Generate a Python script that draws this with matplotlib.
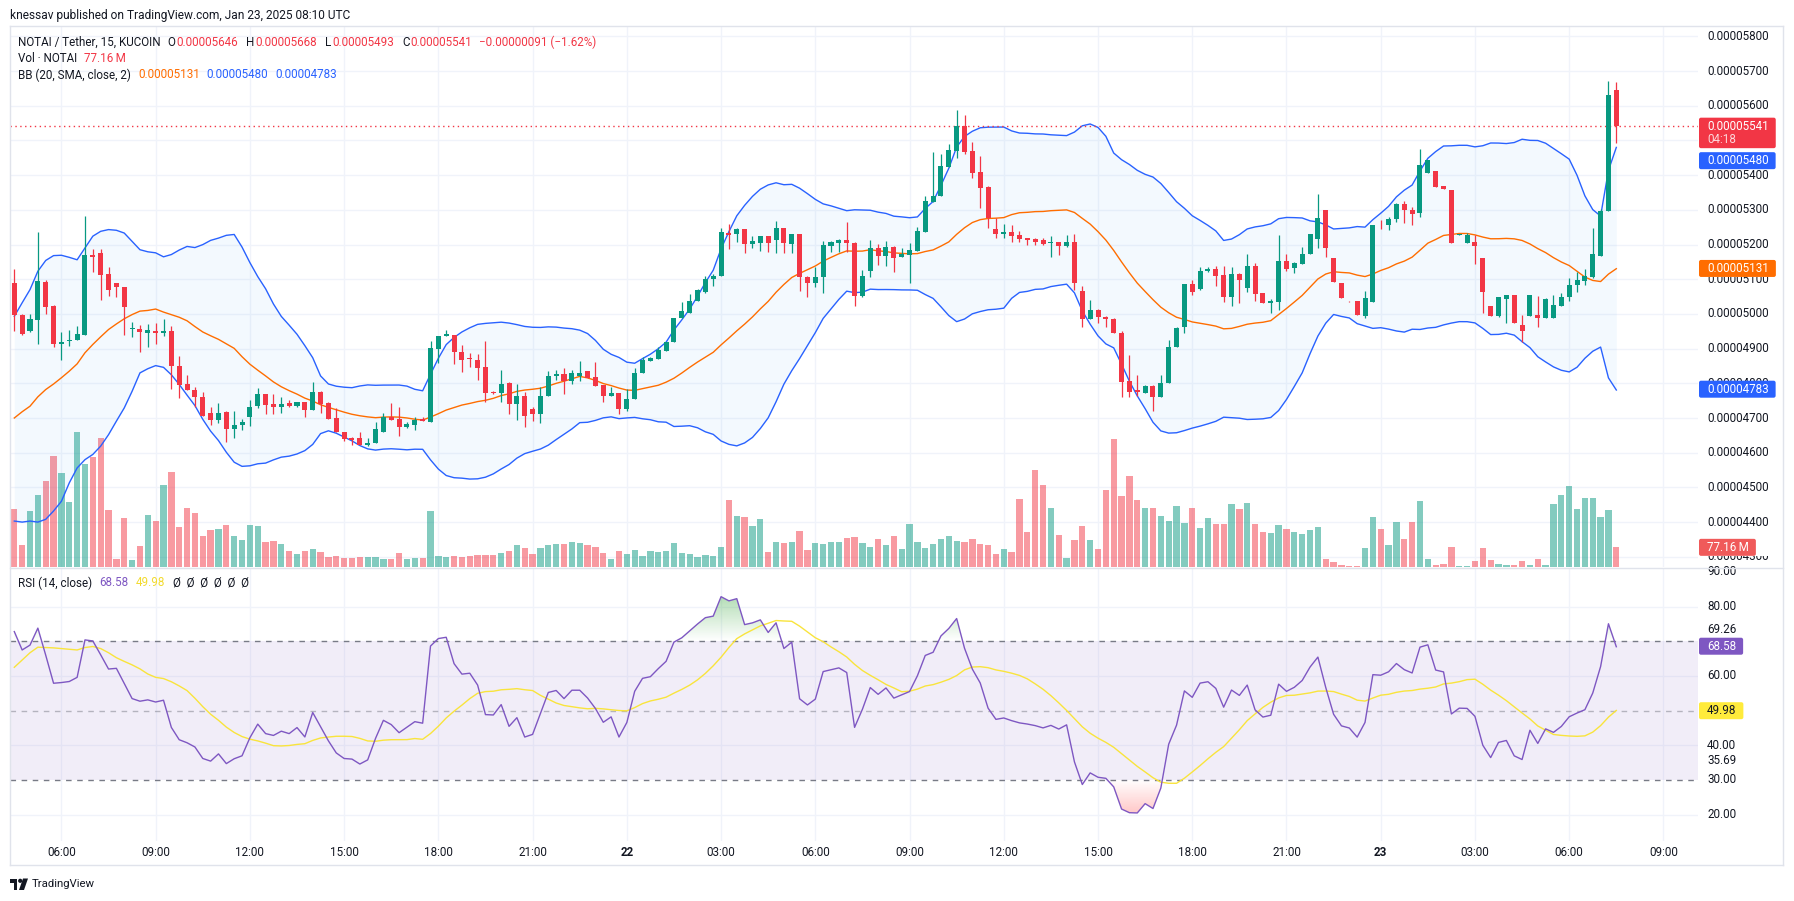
import numpy as np
import pandas as pd
import matplotlib
matplotlib.use("Agg")
import matplotlib.pyplot as plt
from matplotlib.transforms import IdentityTransform, blended_transform_factory, Bbox
from matplotlib.patches import FancyBboxPatch, PathPatch, Polygon, Circle
from matplotlib.path import Path
from matplotlib.lines import Line2D
from matplotlib.colors import to_rgb

# ---------------- data (prices in units of 1e-8 USDT, volume in millions) ----------------
start_time = "2025-01-21 04:30"

opens = [5089,4998,4952,4982,5092,5024,4912,4921,4924,4940,
         5171,5176,5116,5089,5078,4957,4957,4945,4952,4945,
         4952,4851,4799,4782,4761,4713,4694,4717,4669,4680,
         4702,4734,4768,4739,4731,4742,4734,4747,4722,4776,
         4743,4701,4661,4642,4642,4622,4627,4659,4703,4696,
         4674,4681,4698,4688,4900,4936,4940,4890,4871,4867,
         4848,4774,4773,4800,4741,4762,4726,4712,4762,4821,
         4827,4808,4821,4836,4819,4795,4764,4771,4725,4754,
         4829,4865,4869,4894,4919,4987,5004,5038,5064,5100,
         5110,5232,5229,5244,5201,5204,5225,5213,5249,5201,
         5230,5105,5090,5105,5197,5205,5213,5203,5052,5125,
         5189,5168,5192,5163,5171,5180,5237,5323,5340,5424,
         5469,5541,5469,5409,5365,5244,5230,5235,5227,5218,
         5215,5213,5203,5206,5196,5206,5066,4985,5011,4990,
         4985,4944,4807,4781,4771,4792,4760,4800,4904,4961,
         5086,5071,5125,5130,5112,5050,5115,5076,5138,5061,
         5031,5033,5153,5131,5143,5172,5216,5299,5160,5088,
         5037,5037,4994,5033,5257,5255,5273,5317,5300,5292,
         5407,5412,5369,5357,5228,5204,5206,5162,5023,4994,
         5044,5055,4968,4994,4997,4987,4987,5024,5048,5082,
         5096,5106,5168,5297,5646]

highs = [5130,5001,5001,5235,5099,5027,4947,4955,4966,5281,
         5188,5188,5135,5089,5078,4976,4969,4972,4974,4984,
         4966,4880,4825,4790,4776,4732,4742,4720,4720,4698,
         4753,4787,4768,4770,4761,4751,4747,4747,4805,4779,
         4747,4730,4661,4646,4661,4642,4689,4713,4744,4732,
         4688,4703,4703,4923,4937,4955,4940,4911,4887,4885,
         4923,4779,4839,4805,4798,4776,4733,4788,4836,4839,
         4845,4837,4865,4836,4860,4795,4789,4771,4783,4843,
         4875,4877,4906,4919,4989,5033,5057,5072,5110,5115,
         5249,5259,5249,5244,5225,5225,5225,5268,5249,5230,
         5230,5109,5136,5210,5211,5215,5264,5208,5127,5213,
         5201,5210,5196,5189,5203,5251,5340,5467,5461,5489,
         5587,5573,5494,5455,5369,5275,5259,5256,5240,5218,
         5218,5218,5225,5206,5227,5230,5079,5040,5014,4994,
         4988,4952,4882,4824,4795,4795,4824,4925,4963,5086,
         5098,5136,5136,5139,5138,5134,5119,5173,5148,5061,
         5042,5227,5173,5149,5194,5230,5345,5299,5160,5088,
         5037,5037,5067,5257,5271,5280,5321,5324,5309,5476,
         5444,5412,5369,5357,5229,5233,5228,5162,5023,5048,
         5055,5055,4997,5055,5052,5047,5055,5060,5103,5120,
         5130,5247,5302,5671,5668]

lows = [4950,4938,4949,4912,5001,4904,4866,4907,4924,4940,
        5120,5039,5051,5048,4940,4933,4889,4904,4914,4936,
        4785,4759,4780,4732,4707,4681,4686,4631,4643,4664,
        4676,4729,4712,4712,4715,4732,4731,4702,4722,4715,
        4698,4659,4633,4622,4622,4619,4627,4659,4693,4648,
        4671,4665,4691,4688,4859,4936,4857,4834,4848,4810,
        4745,4769,4745,4712,4693,4675,4692,4687,4762,4810,
        4770,4798,4808,4815,4791,4747,4764,4711,4721,4754,
        4829,4865,4869,4894,4919,4987,5004,5038,5059,5080,
        5110,5187,5208,5175,5189,5182,5177,5175,5175,5175,
        5067,5050,5077,5059,5177,5179,5179,5024,5050,5105,
        5141,5139,5122,5163,5090,5180,5237,5323,5340,5424,
        5448,5461,5391,5304,5247,5220,5218,5208,5208,5199,
        5199,5199,5165,5170,5194,5069,4963,4985,4973,4963,
        4944,4760,4760,4764,4771,4719,4760,4800,4904,4944,
        5055,5069,5122,5081,5033,5024,5031,5064,5038,5031,
        5002,5010,5125,5119,5143,5172,5189,5163,5093,5045,
        5035,4998,4988,5033,5245,5242,5266,5263,5257,5280,
        5407,5367,5361,5204,5228,5204,5144,5004,4994,4990,
        4973,4973,4918,4994,4961,4987,4987,5024,5036,5062,
        5082,5103,5168,5297,5493]

closes = [4998,4943,4984,5094,5019,4912,4919,4926,4943,5171,
          5163,5113,5068,5077,5020,4958,4947,4953,4945,4952,
          4849,4794,4780,4761,4707,4694,4713,4669,4681,4688,
          4732,4768,4737,4731,4741,4734,4747,4722,4776,4739,
          4698,4659,4640,4638,4622,4629,4667,4703,4693,4674,
          4684,4694,4691,4902,4937,4943,4890,4867,4870,4845,
          4773,4772,4798,4741,4762,4706,4712,4762,4821,4827,
          4808,4831,4831,4815,4793,4762,4773,4725,4754,4829,
          4867,4872,4896,4919,4989,5007,5037,5069,5101,5109,
          5235,5228,5244,5201,5210,5225,5205,5249,5205,5230,
          5105,5088,5105,5199,5206,5213,5203,5052,5109,5189,
          5168,5192,5162,5173,5184,5239,5325,5340,5426,5472,
          5541,5467,5407,5364,5275,5230,5235,5225,5217,5213,
          5208,5201,5207,5197,5206,5090,4985,5011,4990,4985,
          4944,4805,4776,4774,4792,4760,4800,4904,4960,5086,
          5064,5124,5130,5110,5050,5115,5098,5138,5057,5031,
          5037,5153,5130,5146,5173,5230,5277,5189,5093,5045,
          5036,4998,5046,5257,5255,5273,5317,5298,5288,5429,
          5444,5367,5361,5204,5229,5228,5197,5064,4994,5048,
          5055,4973,4952,5055,4987,5043,5026,5048,5084,5098,
          5110,5173,5297,5632,5541]

volumes_m = [226,85,218,281,336,434,368,254,528,403,
             430,505,222,30,191,26,81,203,179,320,
             371,156,230,211,120,144,148,164,120,105,
             164,160,97,101,89,61,50,61,69,58,
             38,42,34,34,38,38,38,30,30,54,
             30,34,34,218,42,38,42,39,42,46,
             46,46,55,61,85,75,50,75,85,89,
             89,97,93,85,77,54,30,61,50,65,
             42,61,59,61,93,54,50,38,46,42,
             77,262,199,195,160,187,58,97,93,97,
             140,65,93,89,97,97,112,116,93,77,
             109,85,120,69,167,97,73,89,109,120,
             101,97,109,89,85,50,69,58,266,136,
             379,320,230,124,34,105,160,105,69,301,
             501,277,356,262,230,230,199,179,238,171,
             230,152,191,167,167,246,226,250,167,136,
             132,164,148,136,128,144,156,30,18,7,
             3,3,73,195,148,85,175,109,175,258,
             30,7,10,77,3,3,22,73,26,10,
             7,7,22,7,30,7,246,281,317,226,
             269,269,195,222,77.16]

# indicator values at the left edge (their history lies before the visible window)
bb_head_upper = [4993,5032,5070,5123,5154,5168,5169,5163,5156,5190,
                 5224,5238,5243,5241,5233,5209,5185,5179,5176]
bb_head_basis = [4700,4718,4734,4761,4782,4798,4816,4835,4856,4888,
                 4912,4934,4955,4971,4986,4998,5008,5010,5014]
bb_head_lower = [4403,4400,4403,4400,4408,4432,4460,4513,4556,4580,
                 4595,4619,4652,4691,4729,4777,4830,4842,4851]
rsi_head = [72.8,67.5,68.9,73.8,66.0,57.9,58.1,58.4,59.6,70.4,70.1,66.1,62.0,62.2]
rsi_ma_head = [62.5,64.6,66.7,68.3,68.2,68.1,67.9,67.7,67.5,68.2,68.5,67.9,66.7]

price_ticks = list(range(4300, 5900, 100))
rsi_ticks = [90, 80, 60, 40, 30, 20]
rsi_extra_labels = [69.26, 35.69]
last_price, countdown = 5541, "04:18"
bb_last = {"basis": 5131, "upper": 5480, "lower": 4783}
last_volume = 77.16
rsi_last, rsi_ma_last = 68.58, 49.98

header = "knessav published on TradingView.com, Jan 23, 2025 08:10 UTC"

# ---------------- styling / layout ----------------
W, H, DPI = 1794, 901, 100
FONT = "Roboto"
plt.rcParams["font.family"] = [FONT, "DejaVu Sans"]
TXT = "#131722"
GREEN, RED = "#089981", "#F23645"
BLUE, ORANGE = "#2962FF", "#FF6D00"
PURPLE, YELLOW = "#7E57C2", "#FFEB3B"
GRID = "#F0F3FA"
BORDER = "#E0E3EB"

PANE_L, PANE_R = 10, 1698
MAIN_T, MAIN_B = 26, 567
RSI_T, RSI_B = 568, 841
X0_PX, STEP_PX = 14.3, 7.853
P_TOP, P_BOT = 5829.7, 4270.6
VOL_TOP = 2123.0
R_TOP, R_BOT = 91.14, 12.40
AXIS_TXT_X = 1707
LBL_HALF = 6.0

# ---------------- derived series ----------------
o = np.asarray(opens, float); hi = np.asarray(highs, float)
lo = np.asarray(lows, float); c = np.asarray(closes, float)
vol = np.asarray(volumes_m, float)
n = len(c)
idx = np.arange(n)

cs = pd.Series(c)
basis = cs.rolling(20).mean().to_numpy()
dev = cs.rolling(20).std(ddof=0).to_numpy()
upper = basis + 2 * dev
lower = basis - 2 * dev
k = len(bb_head_basis)
basis[:k] = bb_head_basis; upper[:k] = bb_head_upper; lower[:k] = bb_head_lower

rsi = np.full(n, np.nan)
m = len(rsi_head)
rsi[:m] = rsi_head
mean_step = np.abs(np.diff(c[:m])).mean()
rs0 = rsi_head[-1] / (100 - rsi_head[-1])
avg_up = mean_step * rs0 / (1 + rs0)
avg_dn = mean_step / (1 + rs0)
for i in range(m, n):
    ch = c[i] - c[i - 1]
    avg_up = (avg_up * 13 + max(ch, 0)) / 14
    avg_dn = (avg_dn * 13 + max(-ch, 0)) / 14
    rsi[i] = 100 - 100 / (1 + avg_up / avg_dn)
rsi_ma = pd.Series(rsi).rolling(14).mean().to_numpy()
rsi_ma[:len(rsi_ma_head)] = rsi_ma_head

x_left = (PANE_L - X0_PX) / STEP_PX
x_right = (PANE_R - X0_PX) / STEP_PX
slots = pd.date_range(start_time, periods=int(np.ceil(x_right)) + 1, freq="15min")
tick_pos = [i for i, t in enumerate(slots) if t.minute == 0 and t.hour % 3 == 0]
tick_lab = [(str(slots[i].day), "bold") if slots[i].hour == 0 else (slots[i].strftime("%H:%M"), "normal")
            for i in tick_pos]

# ---------------- figure ----------------
fig = plt.figure(figsize=(W / DPI, H / DPI), dpi=DPI)
fig.patch.set_facecolor("white")
renderer = fig.canvas.get_renderer()


def rect(t, b):
    return [PANE_L / W, 1 - b / H, (PANE_R - PANE_L) / W, (b - t) / H]


axv = fig.add_axes(rect(MAIN_T, MAIN_B)); axv.set_zorder(1)
ax = fig.add_axes(rect(MAIN_T, MAIN_B), sharex=axv); ax.set_zorder(2)
axr = fig.add_axes(rect(RSI_T, RSI_B), sharex=axv)
for a in (ax, axv, axr):
    a.set_axis_off()
    a.set_autoscale_on(False)
axv.set_xlim(x_left, x_right)
ax.set_ylim(P_BOT, P_TOP)
axv.set_ylim(0, VOL_TOP)
axr.set_ylim(R_BOT, R_TOP)

# grid
gt = blended_transform_factory(axv.transAxes, ax.transData)
for p in price_ticks:
    axv.add_line(Line2D([0, 1], [p, p], transform=gt, color=GRID, lw=1, zorder=0))
for tp in tick_pos:
    axv.axvline(tp, color=GRID, lw=1, zorder=0)
    axr.axvline(tp, color=GRID, lw=1, zorder=0)
for r in [80, 60, 40, 20]:
    axr.axhline(r, color=GRID, lw=1, zorder=0)

# volume
up = c >= o
vcol = [(*to_rgb(GREEN), 0.5) if u else (*to_rgb(RED), 0.5) for u in up]
axv.bar(idx, vol, width=0.8, color=vcol, linewidth=0, zorder=2)

# Bollinger bands
ax.fill_between(idx, lower, upper, color=(33 / 255, 150 / 255, 243 / 255, 0.05), lw=0, zorder=1)
ax.plot(idx, basis, color=ORANGE, lw=1.0, zorder=2)
ax.plot(idx, upper, color=BLUE, lw=1.0, zorder=2)
ax.plot(idx, lower, color=BLUE, lw=1.0, zorder=2)

# price line
ax.axhline(last_price, color=RED, lw=1.0, ls=(0, (1, 2.5)), zorder=3)

# candles
ccol = np.where(up, GREEN, RED)
ax.vlines(idx, lo, hi, colors=ccol, lw=0.9, zorder=4)
ax.bar(idx, np.maximum(np.abs(c - o), 2.5), bottom=np.minimum(o, c), width=0.64,
       color=ccol, linewidth=0, zorder=5)

# RSI pane
axr.axhspan(30, 70, color=(126 / 255, 87 / 255, 194 / 255, 0.1), lw=0, zorder=1)
axr.axhline(70, color="#787B86", lw=1, ls=(0, (4, 4)), zorder=2)
axr.axhline(30, color="#787B86", lw=1, ls=(0, (4, 4)), zorder=2)
axr.axhline(50, color="#787B86", lw=1, ls=(0, (4, 4)), alpha=0.5, zorder=2)


def grad_fill(level, above, color, far):
    mask = rsi > level if above else rsi < level
    coll = axr.fill_between(idx, rsi, level, where=mask, interpolate=True,
                            facecolor="none", edgecolor="none")
    paths = [p for p in coll.get_paths() if len(p.vertices)]
    coll.remove()
    if not paths:
        return
    comp = Path.make_compound_path(*paths)
    patch = PathPatch(comp, transform=axr.transData, facecolor="none", edgecolor="none")
    axr.add_patch(patch)
    g = np.linspace(0, 1, 256)
    img = np.zeros((256, 1, 4))
    img[..., :3] = to_rgb(color)
    if above:
        img[:, 0, 3] = g
        ext = [x_left, x_right, level, far]
    else:
        img[:, 0, 3] = g[::-1]
        ext = [x_left, x_right, far, level]
    im = axr.imshow(img, extent=ext, origin="lower", aspect="auto", zorder=2,
                    interpolation="bilinear")
    im.set_clip_path(patch)


grad_fill(70, True, "#4CAF50", 100)
grad_fill(30, False, "#FF5252", 0)
axr.plot(idx, rsi_ma, color="#F9E43C", lw=1.0, zorder=3)
axr.plot(idx, rsi, color=PURPLE, lw=1.0, zorder=4)
axv.set_xlim(x_left, x_right)
axr.set_ylim(R_BOT, R_TOP)


# ---------------- text helpers ----------------
def put(xpx, ypx, s, color=TXT, size=8.3, weight="normal", ha="left", z=12):
    return fig.text(xpx / W, 1 - ypx / H, s, color=color, fontsize=size, fontweight=weight,
                    ha=ha, va="center", zorder=z)


def wpx(t):
    return t.get_window_extent(renderer).width


probe = put(0, 0, "0.00005800")
FS = 8.3 * 61.6 / wpx(probe)
probe.remove()


def row(xpx, ypx, segs, size=None):
    x = xpx
    for s, color, gap in segs:
        t = put(x, ypx, s, color, size or FS)
        x += wpx(t) + gap


def ypix(axis, val):  # pixel-from-top of a data value
    return H - axis.transData.transform((0, val))[1]


# header and legends
ht = put(10, 15, header, size=FS)
ht.set_fontsize(FS * 342 / wpx(ht))

row(18, 42, [("NOTAI / Tether, 15, KUCOIN", TXT, 7), ("O", TXT, 1), ("0.00005646", RED, 8),
             ("H", TXT, 1), ("0.00005668", RED, 8), ("L", TXT, 1), ("0.00005493", RED, 8),
             ("C", TXT, 1), ("0.00005541", RED, 7), ("\u22120.00000091 (\u22121.62%)", RED, 0)])
row(18, 59, [("Vol \u00b7 NOTAI", TXT, 7), ("77.16\u2009M", RED, 0)])
row(18, 75, [("BB (20, SMA, close, 2)", TXT, 7), ("0.00005131", ORANGE, 7),
             ("0.00005480", BLUE, 7), ("0.00004783", BLUE, 0)])
row(18, 583, [("RSI (14, close)", TXT, 7), ("68.58", PURPLE, 7), ("49.98", "#F2DA2E", 8),
              ("\u00d8  \u00d8  \u00d8  \u00d8  \u00d8  \u00d8", TXT, 0)])

# time labels
for tp, (lab, wt) in zip(tick_pos, tick_lab):
    xpx = axv.transData.transform((tp, 0))[0]
    put(xpx, 853, lab, size=FS, weight=wt, ha="center")


def value_box(center, s, face, tcol, sub=None):
    t = put(AXIS_TXT_X, center, s, color=tcol, size=FS, z=21)
    right = AXIS_TXT_X + wpx(t) + 7
    top = center - 8.5
    bottom = center + 8.5 + (13.5 if sub else 0)
    fig.add_artist(FancyBboxPatch((PANE_R + 1, H - bottom), right - PANE_R - 1, bottom - top,
                                  boxstyle="round,pad=0,rounding_size=2",
                                  transform=IdentityTransform(), fc=face, ec="none", zorder=20))
    if sub:
        put(AXIS_TXT_X, center + 13.5, sub, color=(1, 1, 1, 0.8), size=FS, z=21)
    return top, bottom


# stacked price-axis boxes (top to bottom, pushed down when overlapping)
boxes = []
prev_bottom = -1e9
specs = [(ypix(ax, last_price), f"{last_price * 1e-8:.8f}", RED, "white", countdown),
         (ypix(ax, bb_last["upper"]), f"{bb_last['upper'] * 1e-8:.8f}", BLUE, "white", None),
         (ypix(ax, bb_last["basis"]), f"{bb_last['basis'] * 1e-8:.8f}", ORANGE, "white", None),
         (ypix(ax, bb_last["lower"]), f"{bb_last['lower'] * 1e-8:.8f}", BLUE, "white", None),
         (ypix(axv, last_volume), f"{last_volume:.2f}\u2009M", "#F05A5A", "white", None)]
for cen, s, face, tcol, sub in specs:
    if cen - 8.5 < prev_bottom + 4:
        cen = prev_bottom + 4 + 8.5
    top, prev_bottom = value_box(cen, s, face, tcol, sub)
    boxes.append((top, prev_bottom))

rbox_top, _ = value_box(ypix(axr, rsi_last), f"{rsi_last:.2f}", PURPLE, "white")
value_box(ypix(axr, rsi_ma_last), f"{rsi_ma_last:.2f}", YELLOW, TXT)


def axis_label(ypx, s, covers):
    """Axis value label; hidden where a value box sits on top of it."""
    lt, lb = ypx - LBL_HALF, ypx + LBL_HALF
    clip = None
    for bt, bb in covers:
        ov = min(lb, bb) - max(lt, bt)
        if ov <= 0:
            continue
        if ov >= 0.8 * (lb - lt):
            return
        if ypx < (bt + bb) / 2:
            clip = Bbox.from_extents(PANE_R, H - bt, W, H)
        else:
            clip = Bbox.from_extents(PANE_R, 0, W, H - bb)
    t = put(AXIS_TXT_X, ypx, s, size=FS, z=8)
    if clip is not None:
        t.set_clip_box(clip)
        t.set_clip_on(True)


for p in price_ticks:
    axis_label(ypix(ax, p), f"{p * 1e-8:.8f}", boxes)
for r in rsi_ticks:
    axis_label(ypix(axr, r), f"{r:.2f}", [])
for r in rsi_extra_labels:
    yy = ypix(axr, r)
    if abs(yy - (rbox_top + 8.5)) < 2 * LBL_HALF + 2:  # sits on the RSI box -> lifted above it
        yy = rbox_top - 8
    axis_label(yy, f"{r:.2f}", [])


# borders
def seg(x0, y0, x1, y1, color=BORDER):
    fig.add_artist(Line2D([x0, x1], [H - y0, H - y1], transform=IdentityTransform(),
                          color=color, lw=1, zorder=30))


seg(10, 26, 1783, 26)
seg(10, 865, 1783, 865)
seg(10, 26, 10, 865)
seg(1783, 26, 1783, 865)
seg(10, 567.5, 1783, 567.5)

# footer logo + wordmark
logo_kw = dict(transform=IdentityTransform(), fc=TXT, ec="none", zorder=30)
fig.add_artist(Polygon([(10, H - 878.5), (17, H - 878.5), (17, H - 890), (13.5, H - 890),
                        (13.5, H - 882.5), (10, H - 882.5)], closed=True, **logo_kw))
fig.add_artist(Circle((20.2, H - 880.8), 2.1, **logo_kw))
fig.add_artist(Polygon([(23, H - 878.5), (28, H - 878.5), (24, H - 890), (19, H - 890)],
                       closed=True, **logo_kw))
put(32, 884, "TradingView", size=FS * 0.98)

fig.savefig("out.png", dpi=DPI, facecolor="white")
